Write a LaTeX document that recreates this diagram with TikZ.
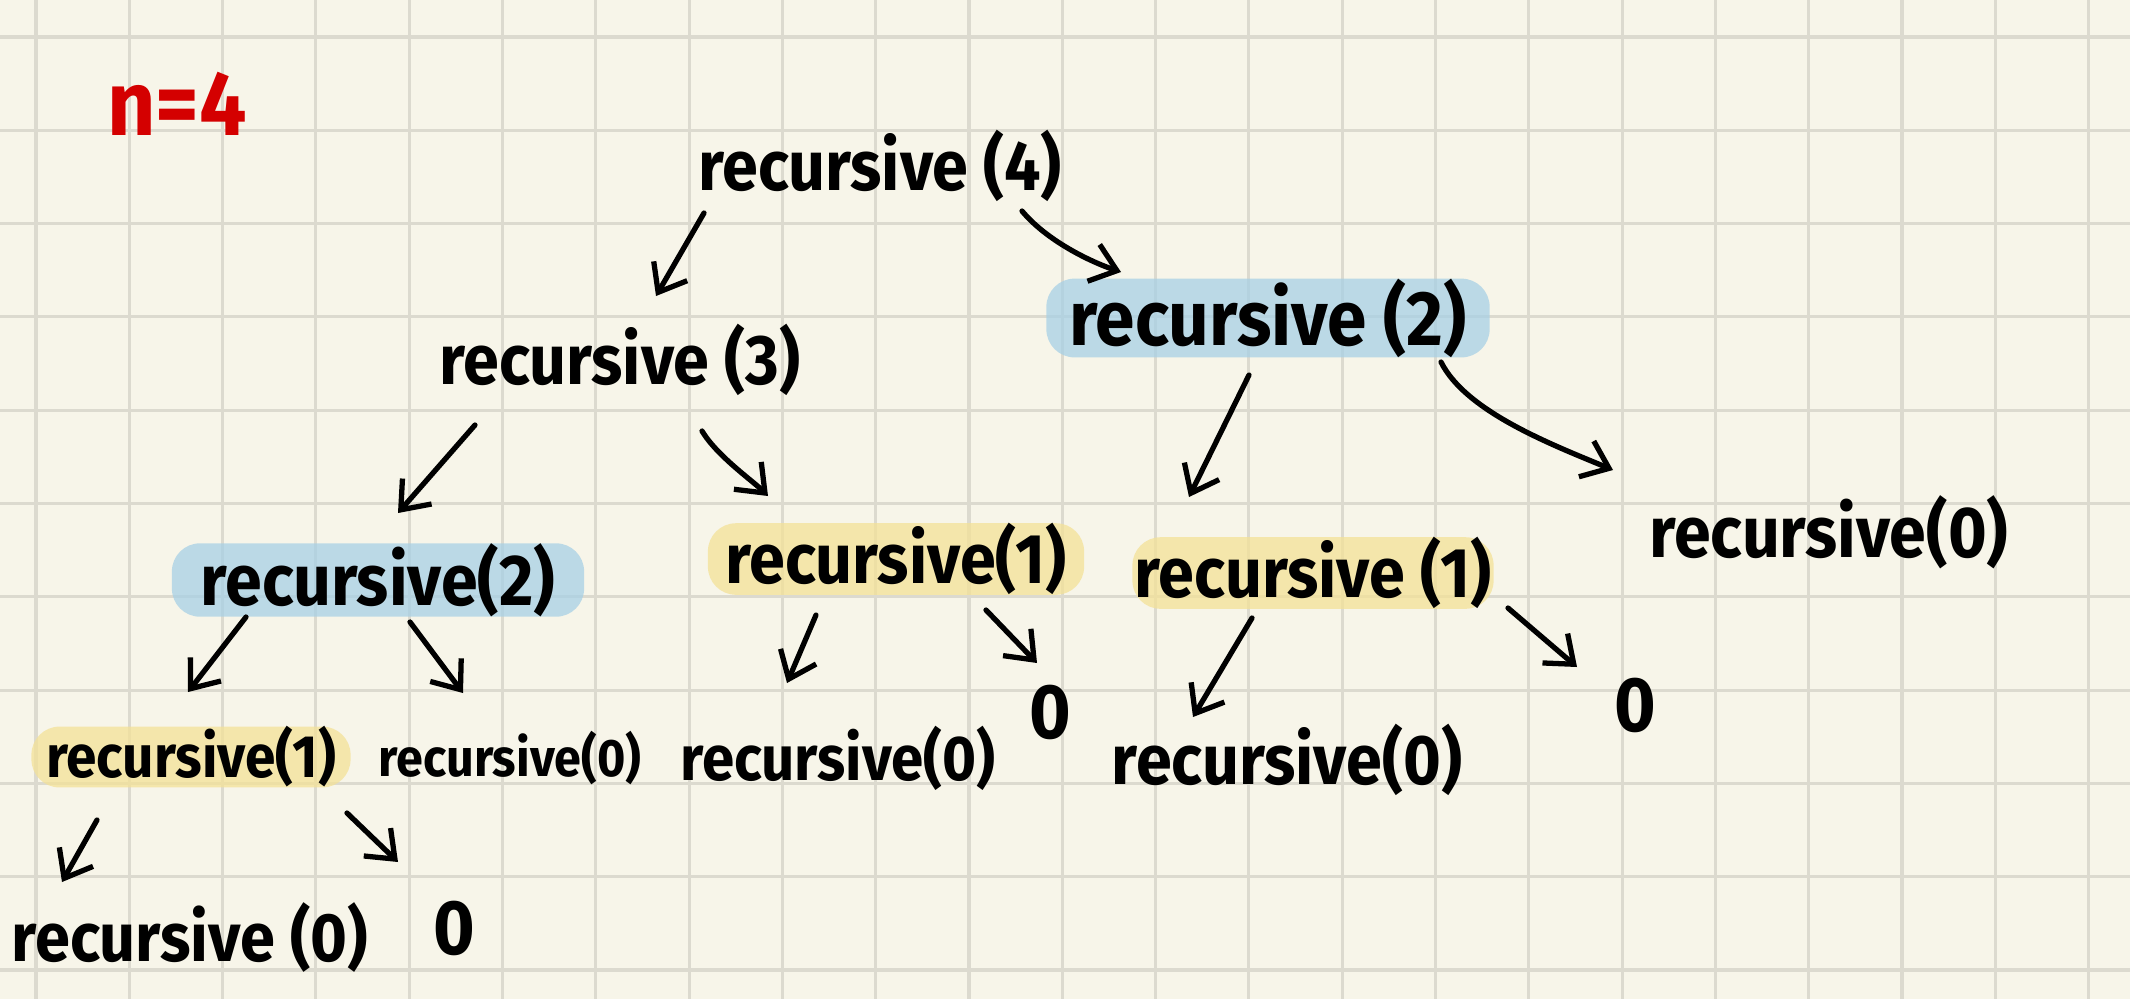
\documentclass[tikz,border=0pt]{standalone}
\usepackage{fontspec}
\usepackage{tikz}
\usetikzlibrary{arrows.meta,positioning,calc}
\newfontfamily\handfont{Fira Sans}[FakeStretch=0.92]

\definecolor{paper}{RGB}{247,245,233}
\definecolor{gridgray}{RGB}{220,218,207}
\definecolor{hlblue}{RGB}{167,208,229}
\definecolor{hlyellow}{RGB}{244,225,151}
\definecolor{inkred}{RGB}{212,0,0}

\tikzset{
    call/.style={font=\handfont\bfseries\fontsize{#1}{#1}\selectfont, inner sep=0pt},
    call/.default=20,
    hl/.style={fill=#1, fill opacity=0.75, text opacity=1, rounded corners=8pt,
        minimum height=0.59cm},
    link/.style={-{Straight Barb[length=7pt,width=11pt]}, line width=1.5pt,
        line cap=round, line join=round},
    gridline/.style={gridgray, line width=0.9pt}
}

\begin{document}
\begin{tikzpicture}[x=0.01cm, y=-0.01cm]
    % Paper and grid
    \fill[paper] (0,0) rectangle (2130,999);
    \useasboundingbox (0,0) rectangle (2130,999);
    \foreach \gx in {0,...,22} {
        \draw[gridline] ({36+93.3*\gx},0) -- ++(0,999);
    }
    \foreach \gy in {0,...,10} {
        \draw[gridline] (0,{37+93.3*\gy}) -- ++(2130,0);
    }

    % n
    \node[call=26, inkred] (nval) at (177,104) {n=4};

    % Calls, top to bottom
    \node[call] (r4) at (880,166) {recursive (4)};
    \node[call] (r3) at (620,360) {recursive (3)};
    \node[call=22, hl=hlblue, minimum width=4.43cm] (r2a) at (1268,318) {recursive (2)};

    \node[call=20.5, hl=hlblue, minimum width=4.12cm] (r2b) at (378,580) {recursive(2)};
    \node[call, hl=hlyellow, minimum width=3.76cm] (r1a) at (896,559) {recursive(1)};
    \node[call, hl=hlyellow, minimum width=3.61cm] (r1b) at (1313,573) {recursive (1)};
    \node[call=20.5] (r0a) at (1829,532) {recursive(0)};

    \node[call=17, hl=hlyellow, minimum width=3.19cm] (r1c) at (191,757) {recursive(1)};
    \node[call=15] (r0b) at (510,758) {recursive(0)};
    \node[call=18] (r0c) at (838,758) {recursive(0)};
    \node[call] (r0d) at (1287,760) {recursive(0)};
    \node[call=22] (z1) at (1050,712) {0};
    \node[call=22] (z3) at (1635,705) {0};

    \node[call=19.5] (r0e) at (190,937) {recursive (0)};
    \node[call=22] (z2) at (454,928) {0};

    % Arrows
    \draw[link] ([shift={(-176,47)}]r4.center) -- ([shift={(36,-64)}]r3.center);
    \draw[link] ([shift={(142,45)}]r4.center)
        .. controls +(25,30) and +(-30,-10) .. ([shift={(-147,-46)}]r2a.center);
    \draw[link] ([shift={(-145,65)}]r3.center) -- ([shift={(20,-67)}]r2b.center);
    \draw[link] ([shift={(82,71)}]r3.center)
        .. controls +(15,25) and +(-15,-15) .. ([shift={(-128,-63)}]r1a.center);
    \draw[link] ([shift={(-19,57)}]r2a.center) -- ([shift={(-124,-76)}]r1b.center);
    \draw[link] ([shift={(173,44)}]r2a.center)
        .. controls +(25,50) and +(-60,-25) .. ([shift={(-216,-62)}]r0a.center);

    \draw[link] ([shift={(-132,37)}]r2b.center) -- ([shift={(-3,-65)}]r1c.center);
    \draw[link] ([shift={(32,42)}]r2b.center) -- ([shift={(-47,-65)}]r0b.center);
    \draw[link] ([shift={(-80,56)}]r1a.center) -- ([shift={(-51,-75)}]r0c.center);
    \draw[link] ([shift={(90,51)}]r1a.center) -- ([shift={(-13,-49)}]z1.center);
    \draw[link] ([shift={(-61,45)}]r1b.center) -- ([shift={(-94,-43)}]r0d.center);
    \draw[link] ([shift={(195,35)}]r1b.center) -- ([shift={(-58,-38)}]z3.center);

    \draw[link] ([shift={(-94,63)}]r1c.center) -- ([shift={(-128,-55)}]r0e.center);
    \draw[link] ([shift={(156,56)}]r1c.center) -- ([shift={(-56,-66)}]z2.center);
\end{tikzpicture}
\end{document}
